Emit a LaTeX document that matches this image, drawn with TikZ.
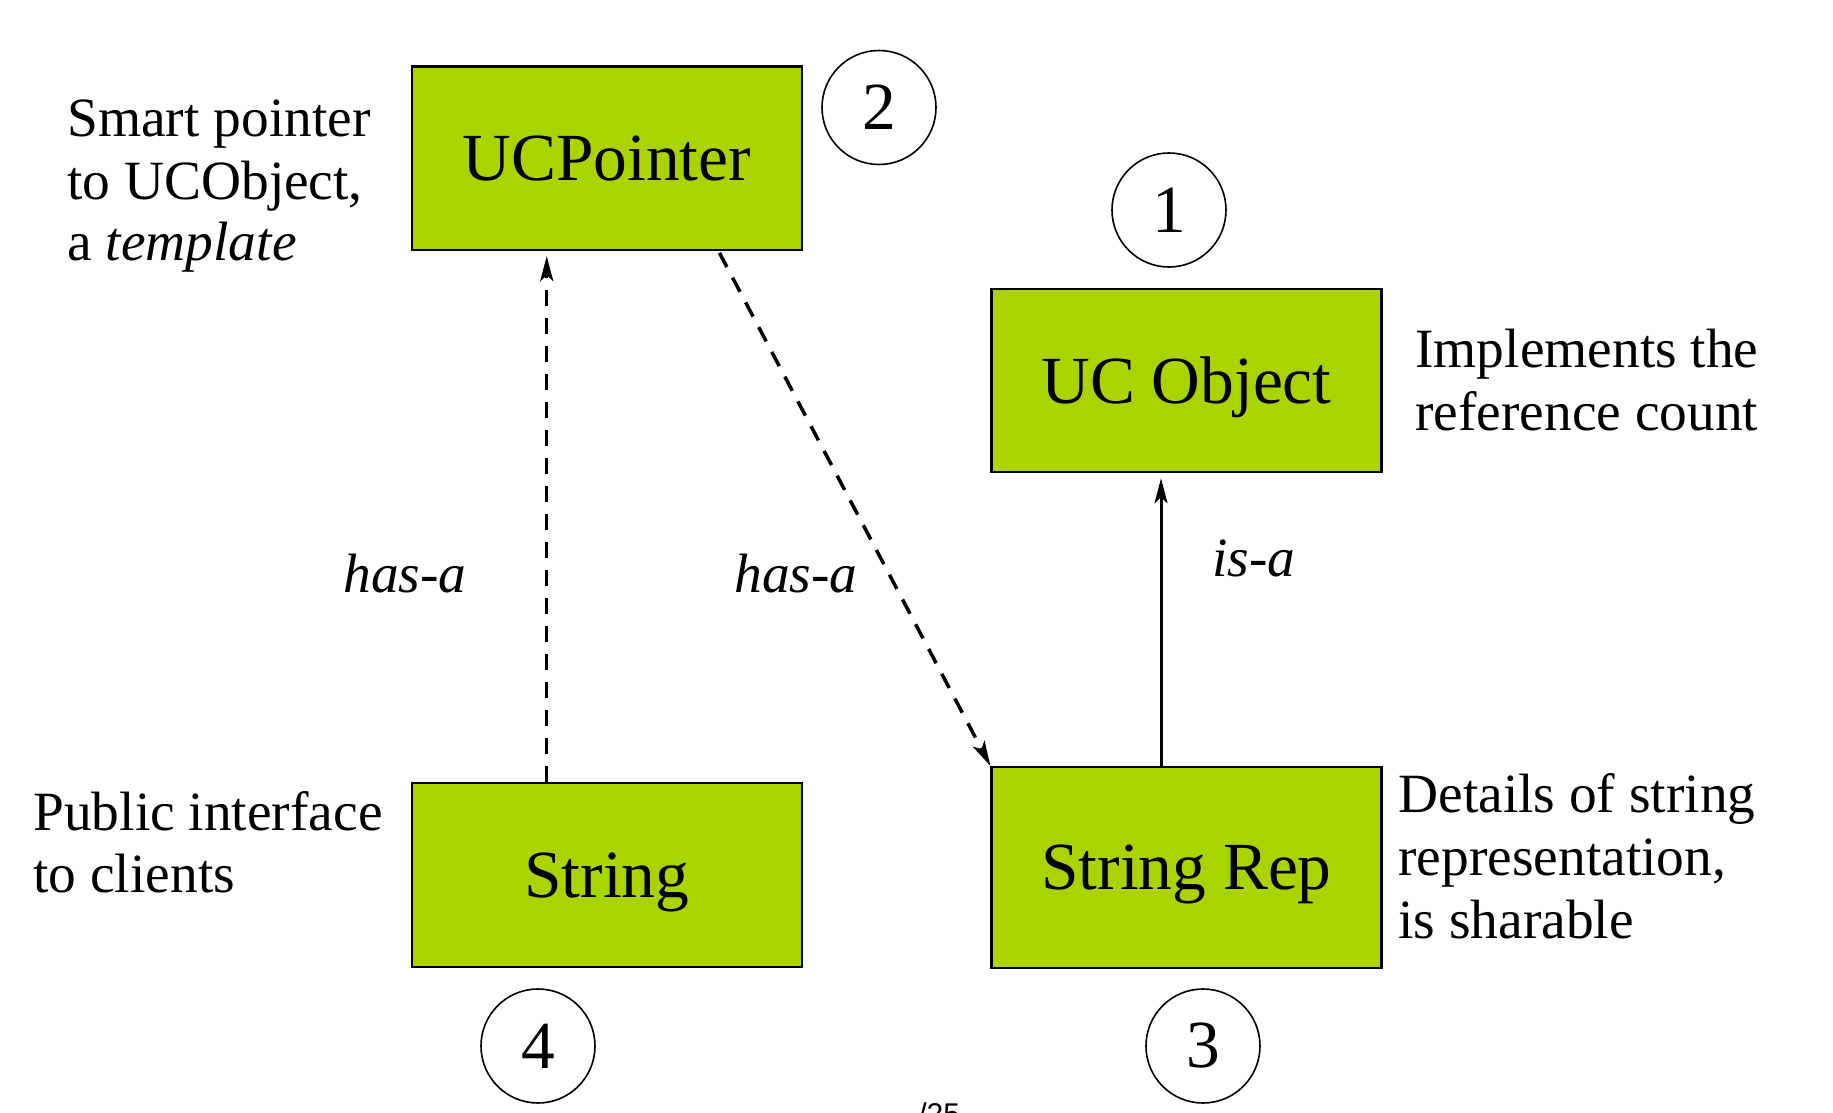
\documentclass[tikz,border=0pt]{standalone}
\usepackage{fontspec}
\setmainfont{Liberation Serif}
\newfontfamily\labelsans{Liberation Sans}
\usetikzlibrary{arrows.meta,calc}
\definecolor{boxgreen}{RGB}{170,212,0}
\begin{document}
\begin{tikzpicture}[x=0.5pt,y=-0.5pt,
 box/.style={draw=black, line width=1.1pt, fill=boxgreen, minimum width=195pt, minimum height=91.7pt, inner sep=0pt, text depth=0pt, font=\fontsize{33.7}{40}\selectfont},
 num/.style={circle, draw, line width=0.8pt, minimum size=57pt, inner sep=0pt, font=\fontsize{33.7}{40}\selectfont},
 note/.style={anchor=base west, inner sep=0pt, font=\fontsize{27.7}{32}\selectfont},
 rel/.style={anchor=base west, inner sep=0pt, font=\fontsize{27.7}{32}\selectfont\itshape},
 tip/.style={-{Stealth[length=12.5pt,width=6.5pt,inset=3pt]}},
 dashedarrow/.style={tip, line width=1.75pt, dash pattern=on 8pt off 6pt},
]
\useasboundingbox (0,0) rectangle (1833,1113);
\fill[white] (0,0) rectangle (1833,1113);

\node[box] (ucp) at (606.75,158.3) {UCPointer};
\node[box] (uco) at (1186.5,380.5) {UC Object};
\node[box] (str) at (606.75,875) {String};
\node[box, minimum height=100.5pt] (rep) at (1186.5,867.5) {String Rep};

\draw[dashedarrow, shorten >=2.5pt] ($(str.north west)!0.347!(str.north east)$) -- ($(ucp.south west)!0.347!(ucp.south east)$);
\draw[dashedarrow, shorten <=1pt] ($(ucp.south west)!0.785!(ucp.south east)$) -- (rep.north west);
\draw[tip, line width=1.5pt, shorten >=2.5pt] ($(rep.north west)!0.435!(rep.north east)$) -- ($(uco.south west)!0.435!(uco.south east)$);

\node[note] (sp1) at (67,137) {Smart pointer};
\node[note] (sp2) at (67,199) {to UCObject,};
\node[note] (sp3) at (67,261) {a \textit{template}};
\node[note] (im1) at (1415,367) {Implements the};
\node[note] (im2) at (1415,430) {reference count};
\node[note] (pi1) at (33,830) {Public interface};
\node[note] (pi2) at (33,892) {to clients};
\node[note] (de1) at (1398,812) {Details of string};
\node[note] (de2) at (1398,875) {representation,};
\node[note] (de3) at (1398,938) {is sharable};

\node[rel] (hasa1) at (343,592) {has-a};
\node[rel] (hasa2) at (734,592) {has-a};
\node[rel] (isa) at (1212,576) {is-a};

\node[num] (n2) at (879,107.5) {2};
\node[num] (n1) at (1169,210) {1};
\node[num] (n4) at (538,1046) {4};
\node[num] (n3) at (1203,1046) {3};

\node[anchor=base west, inner sep=0pt, font=\labelsans\fontsize{15}{18}\selectfont] (pg) at (918,1124) {/25};
\end{tikzpicture}
\end{document}
